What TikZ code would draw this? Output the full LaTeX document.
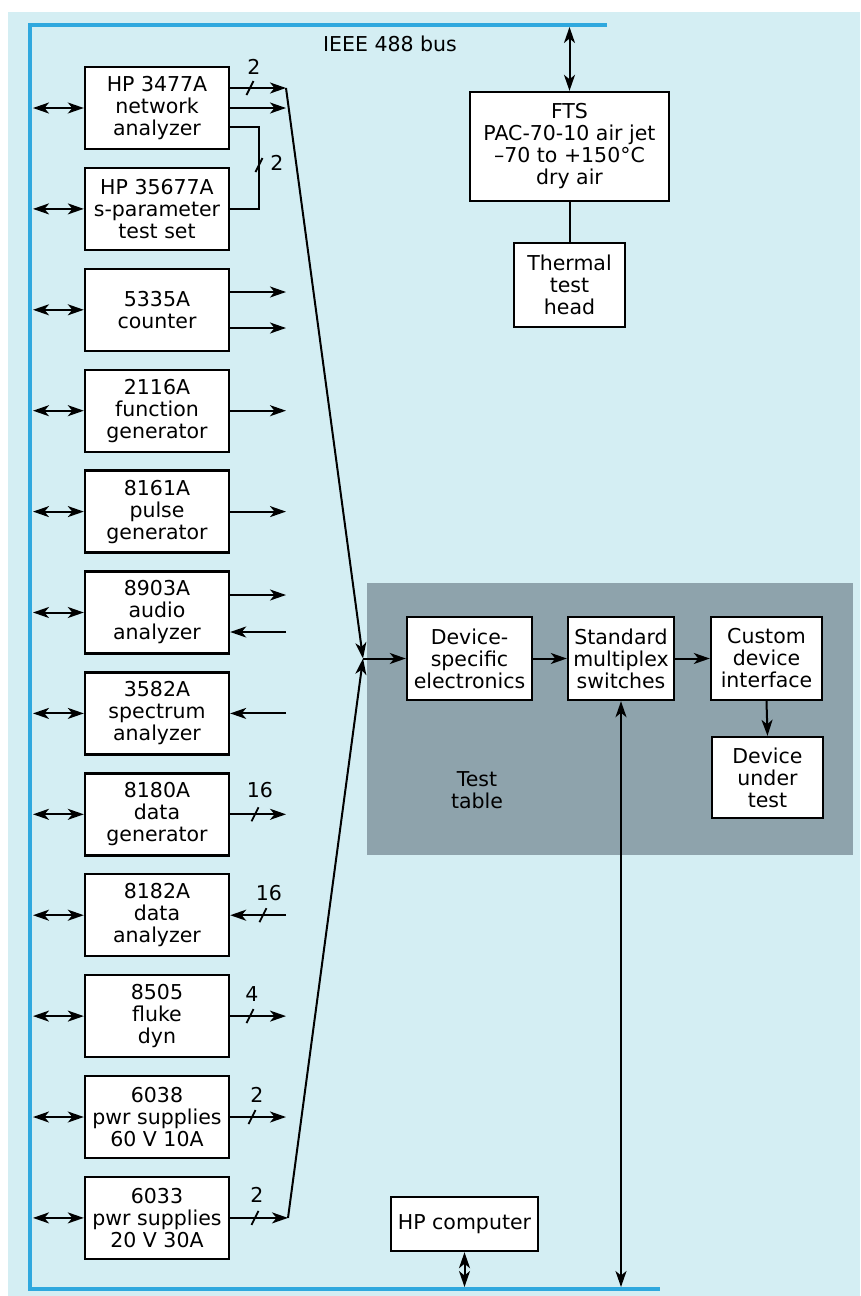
\documentclass[tikz,border=0pt]{standalone}
\usepackage{fontspec}
\setmainfont{DejaVu Sans}
\usetikzlibrary{arrows.meta}
\definecolor{bgcyan}{HTML}{D4EEF3}
\definecolor{busblue}{HTML}{2FA8DE}
\definecolor{tablegray}{HTML}{8EA3AC}
\tikzset{
  txt/.style={font=\fontsize{20.5}{22}\selectfont, align=center, text=black},
  inst/.style={txt, draw=black, fill=white, line width=2.4pt, minimum width=144pt, minimum height=82pt, inner sep=0pt},
  boxx/.style={txt, draw=black, fill=white, line width=2.4pt, inner sep=0pt},
  ln/.style={line width=2pt, draw=black},
  arr/.style={ln, -{Stealth[length=16pt,width=11pt,inset=4.5pt]}},
  dbl/.style={ln, {Stealth[length=16pt,width=11pt,inset=4.5pt]}-{Stealth[length=16pt,width=11pt,inset=4.5pt]}},
  slashmk/.pic={\draw[line width=1.8pt] (-3.5pt,-7pt) -- (3.5pt,7pt);},
  lbl/.style={txt, inner sep=0pt}
}
\begin{document}
\begin{tikzpicture}[x=1pt,y=-1pt]
\useasboundingbox (0,0) rectangle (860,1296);
\fill[white] (0,0) rectangle (860,1296);
\fill[bgcyan] (8,12) rectangle (860,1296);
% IEEE 488 bus
\draw[busblue, line width=4.5pt] (607,25) -- (30,25) -- (30,1289) -- (660,1289);
\node[lbl] (buslabel) at (390,44) {IEEE 488 bus};
% test table
\node[fill=tablegray, minimum width=486pt, minimum height=272pt, inner sep=0pt] (table) at (610,719) {};
\node[lbl] (tablelabel) at (477,790) {Test\\table};
% instruments
\foreach \i/\y/\t in {
  0/108/{HP 3477A\\network\\analyzer},
  1/208.9/{HP 35677A\\s-parameter\\test set},
  2/309.8/{5335A\\counter},
  3/410.7/{2116A\\function\\generator},
  4/511.6/{8161A\\pulse\\generator},
  5/612.5/{8903A\\audio\\analyzer},
  6/713.4/{3582A\\spectrum\\analyzer},
  7/814.3/{8180A\\data\\generator},
  8/915.2/{8182A\\data\\analyzer},
  9/1016.1/{8505\\fluke\\dyn},
  10/1117/{6038\\pwr supplies\\60 V 10A},
  11/1217.9/{6033\\pwr supplies\\20 V 30A}}
  {\node[inst] (n\i) at (157,\y) {\t};}
% bus side double arrows
\coordinate (busL) at (33,0);
\foreach \i in {0,...,11} {\draw[dbl] (n\i.west -| busL) -- (n\i.west);}
% right-hand connections
\coordinate (rx) at (286,0);
\coordinate (o0a) at (286,88);
\draw[arr] (n0.east |- o0a) -- (o0a);
\pic at (250,88) {slashmk};
\node[lbl] (l0) at (254,67) {2};
\coordinate (o0b) at (286,108);
\draw[arr] (n0.east |- o0b) -- (o0b);
\coordinate (k0) at (259,127);
\coordinate (k1) at (259,208.9);
\draw[ln] (n0.east |- k0) -- (k0) -- (k1) -- (n1.east);
\pic at (259,165) {slashmk};
\node[lbl] (l1) at (277,163) {2};
\coordinate (o2a) at (286,292);
\coordinate (o2b) at (286,328);
\draw[arr] (n2.east |- o2a) -- (o2a);
\draw[arr] (n2.east |- o2b) -- (o2b);
\draw[arr] (n3.east) -- (n3.east -| rx);
\draw[arr] (n4.east) -- (n4.east -| rx);
\coordinate (o5a) at (286,595);
\coordinate (o5b) at (286,632);
\draw[arr] (n5.east |- o5a) -- (o5a);
\draw[arr] (o5b) -- (n5.east |- o5b);
\draw[arr] (n6.east -| rx) -- (n6.east);
\draw[arr] (n7.east) -- (n7.east -| rx);
\pic at (255,814.3) {slashmk};
\node[lbl] (l7) at (260,790) {16};
\draw[arr] (n8.east -| rx) -- (n8.east);
\pic at (263,915.2) {slashmk};
\node[lbl] (l8) at (269,893) {16};
\draw[arr] (n9.east) -- (n9.east -| rx);
\pic at (250,1016.1) {slashmk};
\node[lbl] (l9) at (252,994) {4};
\draw[arr] (n10.east) -- (n10.east -| rx);
\pic at (252,1117) {slashmk};
\node[lbl] (l10) at (257,1095) {2};
\coordinate (o11) at (288,1217.9);
\draw[arr] (n11.east) -- (o11);
\pic at (255,1217.9) {slashmk};
\node[lbl] (l11) at (257,1195) {2};
% test table blocks
\node[boxx, minimum width=125pt, minimum height=83pt] (dse) at (469.5,658.5) {Device-\\specific\\electronics};
\node[boxx, minimum width=106pt, minimum height=83pt] (sms) at (621,658.5) {Standard\\multiplex\\switches};
\node[boxx, minimum width=111pt, minimum height=83pt] (cdi) at (766.5,658.5) {Custom\\device\\interface};
\node[boxx, minimum width=111pt, minimum height=81pt] (dut) at (767.5,777.5) {Device\\under\\test};
% converging lines
\coordinate (C) at (363,658.5);
\draw[arr] (o0a) -- (C);
\draw[arr] (o11) -- (C);
\draw[arr] (C) -- (dse.west);
\draw[arr] (dse.east) -- (sms.west);
\draw[arr] (sms.east) -- (cdi.west);
\draw[arr] (cdi.south) -- (dut.north);
% thermal
\node[boxx, minimum width=199pt, minimum height=109pt] (fts) at (569.5,146.5) {FTS\\PAC-70-10 air jet\\–70 to +150°C\\dry air};
\node[boxx, minimum width=111pt, minimum height=84pt] (tth) at (569.5,285) {Thermal\\test\\head};
\coordinate (busT) at (569.5,27);
\draw[dbl] (busT) -- (fts.north);
\draw[ln] (fts.south) -- (tth.north);
% computer
\node[boxx, minimum width=147pt, minimum height=54pt] (hpc) at (464.5,1224) {HP computer};
\coordinate (busH) at (464.5,1287);
\draw[dbl] (hpc.south) -- (busH);
\coordinate (busS) at (621,1287);
\draw[dbl] (sms.south) -- (busS);
\end{tikzpicture}
\end{document}
